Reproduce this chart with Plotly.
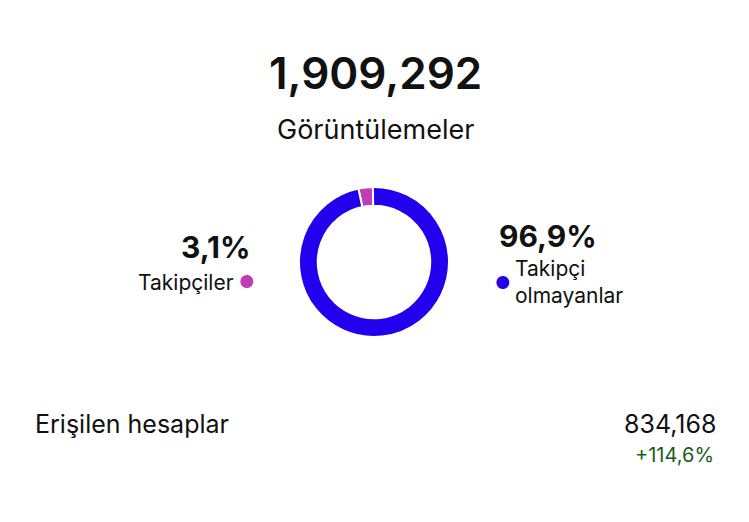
import plotly.graph_objects as go

labels = ["Takipçiler", "Takipçi olmayanlar"]
values = [3.1, 96.9]
colors = ["#C03CB4", "#2200EE"]
total_views = "1,909,292"
reach_label = "Erişilen hesaplar"
reach_value = "834,168"
reach_change = "+114,6%"

W, H = 749, 522
D = 8  # page offset compensation
fig = go.Figure(go.Pie(
    labels=labels, values=values, hole=0.75, sort=False, direction="clockwise",
    rotation=-12, marker=dict(colors=colors, line=dict(color="white", width=2)),
    textinfo="none", hoverinfo="none",
    domain=dict(x=[(299-D)/W, (449-D)/W], y=[(185+D)/H, (335+D)/H])))

def ann(x, y, text, size, color="#111", xanchor="center", weight=None):
    fig.add_annotation(x=(x-D)/W, y=1-(y-D)/H, xref="paper", yref="paper", text=text, showarrow=False,
                       font=dict(size=size, color=color, family="Inter", weight=weight),
                       xanchor=xanchor, yanchor="middle", align="left")

ann(375, 73, total_views, 44, weight=600)
ann(375, 130, "Görüntülemeler", 27)
ann(252, 247, "3,1%", 30, xanchor="right", weight=700)
ann(236, 282, labels[0], 21, xanchor="right")
ann(247, 282, "●", 17, color=colors[0])
ann(497, 236, "96,9%", 30, xanchor="left", weight=700)
ann(503, 283, "●", 17, color=colors[1])
ann(513, 282, "Takipçi<br>olmayanlar", 21, xanchor="left")
ann(33, 424, reach_label, 25, xanchor="left")
ann(718, 424, reach_value, 25, xanchor="right")
ann(716, 455, reach_change, 20, color="#1a5c1a", xanchor="right")

fig.update_layout(width=W, height=H, margin=dict(l=0, r=0, t=0, b=0), showlegend=False,
                  paper_bgcolor="white", plot_bgcolor="white")
fig.write_html("out.html")
